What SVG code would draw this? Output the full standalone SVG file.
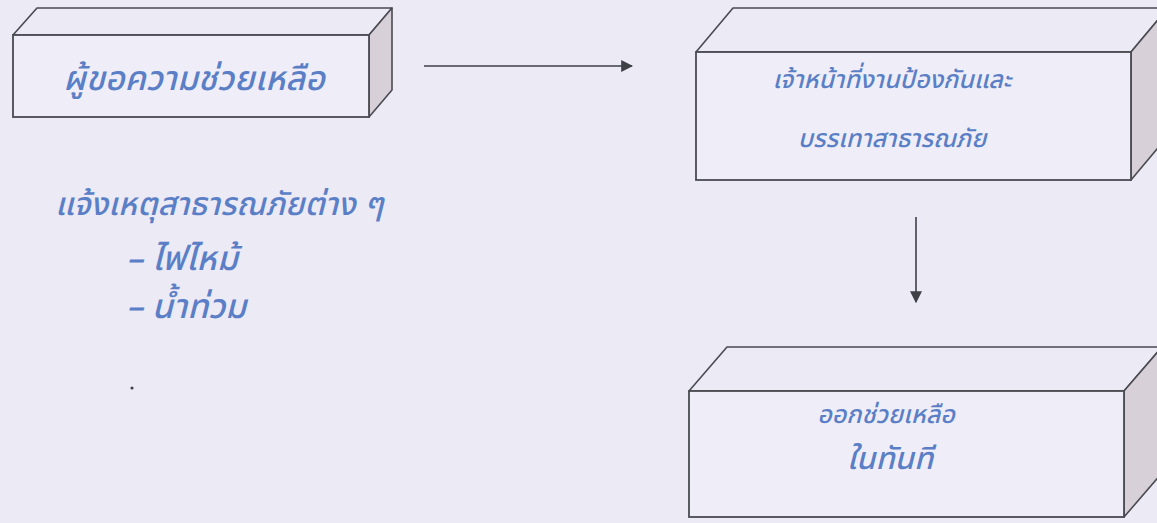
<svg xmlns="http://www.w3.org/2000/svg" width="1157" height="523" viewBox="0 0 1157 523">
<defs>
<marker id="ah" viewBox="0 0 10 10" refX="9" refY="5" markerWidth="12" markerHeight="12" markerUnits="userSpaceOnUse" orient="auto"><path d="M0,0 L10,5 L0,10 z" fill="#3f3f46"/></marker>
</defs>
<style>
.bg{fill:#ebeaf5}
.top{fill:#ebeaf5;stroke:#4a4a52;stroke-width:1.6;stroke-linejoin:round}
.front{fill:#efeef8;stroke:#4a4a52;stroke-width:1.8}
.side{fill:#d8d0d8;stroke:#4a4a52;stroke-width:1.6;stroke-linejoin:round}
.t{font-family:"Noto Sans Thai","Noto Sans","DejaVu Sans",sans-serif;font-style:italic;font-weight:500;fill:#5b7fc6}
.conn{stroke:#3f3f46;stroke-width:1.6;fill:none}
</style>
<rect class="bg" x="0" y="0" width="1157" height="523"/>
<g id="node-requester">
<polygon class="top" points="13,35 37,8 392,8 369,35"/>
<polygon class="side" points="369,35 392,8 392,90 369,117"/>
<rect class="front" x="13" y="35" width="356" height="82"/>
<text class="t" x="194" y="90" font-size="34" text-anchor="middle">ผู้ขอความช่วยเหลือ</text>
</g>
<g id="node-officer">
<polygon class="top" points="696,52 733,8 1168,8 1131,52"/>
<polygon class="side" points="1131,52 1168,8 1168,136 1131,180"/>
<rect class="front" x="696" y="52" width="435" height="128"/>
<text class="t" x="892" y="88" font-size="25" text-anchor="middle">เจ้าหน้าที่งานป้องกันและ</text>
<text class="t" x="892" y="147" font-size="25" text-anchor="middle">บรรเทาสาธารณภัย</text>
</g>
<g id="node-help">
<polygon class="top" points="689,391 727,347 1162,347 1124,391"/>
<polygon class="side" points="1124,391 1162,347 1162,473 1124,517"/>
<rect class="front" x="689" y="391" width="435" height="126"/>
<text class="t" x="886" y="423" font-size="25" text-anchor="middle">ออกช่วยเหลือ</text>
<text class="t" x="890" y="469" font-size="31" text-anchor="middle">ในทันที</text>
</g>
<g id="note">
<text class="t" x="55" y="215" font-size="32">แจ้งเหตุสาธารณภัยต่าง ๆ</text>
<text class="t" x="126" y="270" font-size="34">– ไฟไหม้</text>
<text class="t" x="126" y="318" font-size="34">– น้ำท่วม</text>
<circle cx="132" cy="388" r="1.6" fill="#444"/>
</g>
<g id="connectors">
<line class="conn" x1="424" y1="66" x2="632" y2="66" marker-end="url(#ah)"/>
<line class="conn" x1="916" y1="217" x2="916" y2="302" marker-end="url(#ah)"/>
</g>
</svg>
